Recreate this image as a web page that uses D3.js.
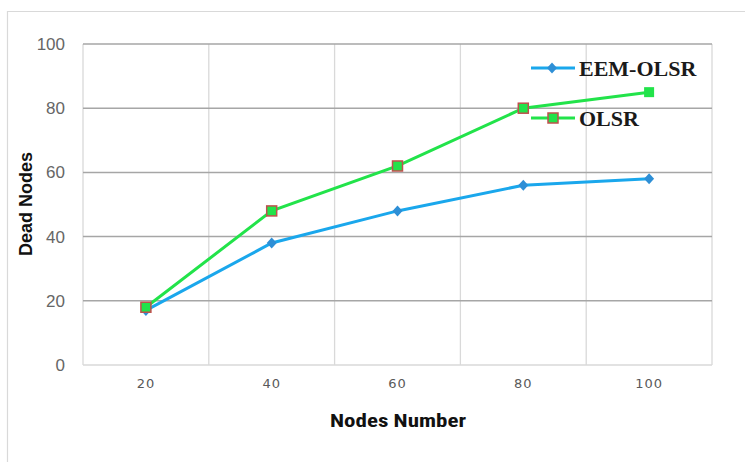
<!DOCTYPE html>
<html>
<head>
<meta charset="utf-8">
<script src="https://d3js.org/d3.v7.min.js"></script>
<style>
  body { margin: 0; background: #fff; }
</style>
</head>
<body>
<div id="chart"></div>
<script>
// data
const nodesNumber = [20, 40, 60, 80, 100];
const eemOlsr = [17, 38, 48, 56, 58];
const olsr = [18, 48, 62, 80, 85];
const yTicks = [0, 20, 40, 60, 80, 100];

const W = 745, H = 462;
const margin = {left: 83, top: 44, right: 33, bottom: 97};

const svg = d3.select("#chart").append("svg")
    .attr("width", W).attr("height", H);

// outer frame (only left + top visible)
svg.append("path")
    .attr("d", `M7.5,${H} L7.5,11.5 L${W},11.5`)
    .attr("fill", "none").attr("stroke", "#d9d9d9").attr("stroke-width", 1.2);

const x = d3.scaleBand().domain(nodesNumber)
    .range([margin.left, W - margin.right]);
const y = d3.scaleLinear().domain([0, 100])
    .range([H - margin.bottom, margin.top]);

// vertical grid at band edges
const g = svg.append("g");
nodesNumber.forEach((d, i) => {
    const xe = x(d) + x.bandwidth();
    g.append("line")
        .attr("x1", xe).attr("x2", xe)
        .attr("y1", y(100)).attr("y2", y(0))
        .attr("stroke", "#d9d9d9").attr("stroke-width", 1.3);
});
g.append("line")
    .attr("x1", margin.left).attr("x2", margin.left)
    .attr("y1", y(100)).attr("y2", y(0))
    .attr("stroke", "#d9d9d9").attr("stroke-width", 1.3);

// horizontal grid
g.selectAll("line.h").data(yTicks.filter(d => d > 0)).join("line")
    .attr("class", "h")
    .attr("x1", margin.left).attr("x2", W - margin.right)
    .attr("y1", d => y(d)).attr("y2", d => y(d))
    .attr("stroke", "#a6a6a6").attr("stroke-width", 1.5);
g.append("line")
    .attr("x1", margin.left).attr("x2", W - margin.right)
    .attr("y1", y(0)).attr("y2", y(0))
    .attr("stroke", "#d9d9d9").attr("stroke-width", 1.5);

// y axis labels
const yAxis = svg.append("g")
    .attr("transform", `translate(${margin.left - 18},0)`)
    .call(d3.axisLeft(y).tickValues(yTicks).tickSize(0).tickPadding(0));
yAxis.select(".domain").remove();
yAxis.selectAll("text")
    .attr("font-family", "Liberation Sans, Arial, sans-serif")
    .attr("font-size", 17).attr("fill", "#666");

// x axis labels
const xAxis = svg.append("g")
    .attr("transform", `translate(0,${y(0) + 14})`)
    .call(d3.axisBottom(x).tickSize(0).tickPadding(0));
xAxis.select(".domain").remove();
xAxis.selectAll("text")
    .attr("font-family", "DejaVu Sans, Verdana, sans-serif")
    .attr("font-size", 13).attr("fill", "#595959")
    .attr("letter-spacing", 1);

// axis titles
svg.append("text")
    .attr("transform", "translate(32,204) rotate(-90)")
    .attr("text-anchor", "middle")
    .attr("font-family", "Liberation Sans, Arial, sans-serif")
    .attr("font-weight", "bold").attr("font-size", 18)
    .attr("fill", "#111")
    .text("Dead Nodes");
svg.append("text")
    .attr("x", 398).attr("y", 427)
    .attr("text-anchor", "middle")
    .attr("font-family", "Liberation Sans Narrow, Roboto Condensed, Roboto, sans-serif")
    .attr("font-weight", "bold").attr("font-size", 18)
    .attr("fill", "#111")
    .attr("textLength", 136).attr("lengthAdjust", "spacingAndGlyphs")
    .text("Nodes Number");

const cx = d => x(d) + x.bandwidth() / 2;
const line = d3.line().x((d, i) => cx(nodesNumber[i])).y(d => y(d));

const blue = "#1aa7ec", green = "#22e34a", red = "#c0504d";

const diamond = "M0,-5.5L5,0L0,5.5L-5,0Z";

// EEM-OLSR
svg.append("path").datum(eemOlsr)
    .attr("d", line).attr("fill", "none")
    .attr("stroke", blue).attr("stroke-width", 3);
svg.selectAll("path.dm").data(eemOlsr).join("path")
    .attr("class", "dm")
    .attr("d", diamond)
    .attr("transform", (d, i) => `translate(${cx(nodesNumber[i])},${y(d)})`)
    .attr("fill", "#2e8fd6");

// OLSR
svg.append("path").datum(olsr)
    .attr("d", line).attr("fill", "none")
    .attr("stroke", green).attr("stroke-width", 3);
svg.selectAll("rect.sq").data(olsr).join("rect")
    .attr("class", "sq")
    .attr("x", (d, i) => cx(nodesNumber[i]) - 5)
    .attr("y", d => y(d) - 5)
    .attr("width", 10).attr("height", 10)
    .attr("fill", green)
    .attr("stroke", (d, i) => i === olsr.length - 1 ? "none" : red)
    .attr("stroke-width", 1.5);

// legend
const lg = svg.append("g")
    .attr("font-family", "Liberation Serif, Times New Roman, serif")
    .attr("font-weight", "bold").attr("font-size", 22).attr("fill", "#1a1a1a");
lg.append("line").attr("x1", 531).attr("x2", 575).attr("y1", 68).attr("y2", 68)
    .attr("stroke", blue).attr("stroke-width", 3);
lg.append("path").attr("d", diamond)
    .attr("transform", "translate(552,68)").attr("fill", "#2e8fd6");
lg.append("text").attr("x", 579).attr("y", 76).text("EEM-OLSR");
lg.append("line").attr("x1", 531).attr("x2", 575).attr("y1", 118).attr("y2", 118)
    .attr("stroke", green).attr("stroke-width", 3);
lg.append("rect").attr("x", 548).attr("y", 113).attr("width", 10).attr("height", 10)
    .attr("fill", green).attr("stroke", red).attr("stroke-width", 1.5);
lg.append("text").attr("x", 579).attr("y", 126).text("OLSR");
</script>
</body>
</html>
